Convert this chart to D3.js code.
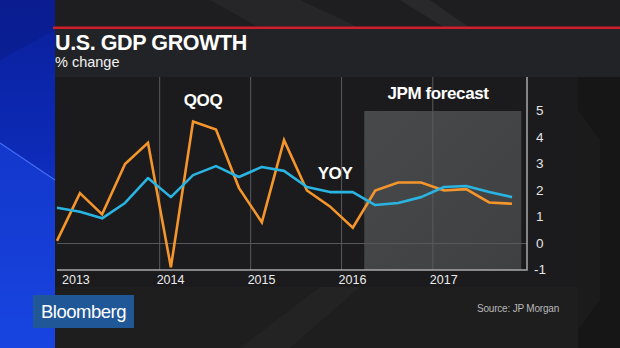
<!DOCTYPE html>
<html>
<head>
<meta charset="utf-8">
<script src="https://cdn.jsdelivr.net/npm/d3@7"></script>
<style>
  html, body { margin: 0; padding: 0; background: #1d1d1f; }
  svg { display: block; font-family: "Liberation Sans", Arial, sans-serif; }
</style>
</head>
<body>
<div id="chart"></div>
<script>
const width = 620;
const height = 348;

// quarterly GDP growth, Q4 2012 .. Q4 2017 (forecast from Q2 2016)
const quarters = ["2012Q4",
  "2013Q1", "2013Q2", "2013Q3", "2013Q4",
  "2014Q1", "2014Q2", "2014Q3", "2014Q4",
  "2015Q1", "2015Q2", "2015Q3", "2015Q4",
  "2016Q1", "2016Q2", "2016Q3", "2016Q4",
  "2017Q1", "2017Q2", "2017Q3", "2017Q4"];
const qoq = [0.1, 1.9, 1.1, 3.0, 3.8, -0.9, 4.6, 4.3, 2.1, 0.8, 3.9, 2.0, 1.4,
  0.6, 2.0, 2.3, 2.3, 2.0, 2.05, 1.55, 1.5];
const yoy = [1.35, 1.2, 0.95, 1.53, 2.47, 1.75, 2.58, 2.92, 2.51, 2.89, 2.74,
  2.13, 1.94, 1.94, 1.45, 1.53, 1.75, 2.13, 2.17, 1.94, 1.75];
const yearTicks = [2013, 2014, 2015, 2016, 2017];
const valueTicks = [-1, 0, 1, 2, 3, 4, 5];
const forecastPeriod = ["2016-04-01", "2017-12-22"];

// mid-point of each quarter
const parseQuarter = q => {
  const y = +q.slice(0, 4), n = +q.slice(5);
  return new Date(y, (n - 1) * 3 + 1, 15);
};
const dates = quarters.map(parseQuarter);

const svg = d3.select("#chart")
  .append("svg")
  .attr("width", width)
  .attr("height", height);

const defs = svg.append("defs");
const blueGrad = defs.append("linearGradient")
  .attr("id", "blueGrad").attr("x1", 0).attr("y1", 0).attr("x2", 0).attr("y2", 1);
blueGrad.append("stop").attr("offset", "0%").attr("stop-color", "#0a1f9a");
blueGrad.append("stop").attr("offset", "45%").attr("stop-color", "#0d2bb8");
blueGrad.append("stop").attr("offset", "100%").attr("stop-color", "#1747e6");

const shadeGrad = defs.append("linearGradient")
  .attr("id", "shadeGrad").attr("x1", 0).attr("y1", 0).attr("x2", 1).attr("y2", 1);
shadeGrad.append("stop").attr("offset", "0%").attr("stop-color", "#48494b");
shadeGrad.append("stop").attr("offset", "100%").attr("stop-color", "#3e4042");

// backdrop: studio panels
const bg = svg.append("g");
bg.append("rect").attr("width", width).attr("height", height).attr("fill", "#1c1c1e");
bg.append("rect").attr("width", width).attr("height", 28).attr("fill", "#1e1e20");
bg.append("path").attr("d", "M210,0 L300,0 L360,28 L260,28 Z").attr("fill", "#262628");
bg.append("path").attr("d", "M400,0 L430,0 L470,28 L445,28 Z").attr("fill", "#29292b");
bg.append("rect").attr("x", 55).attr("y", 29).attr("width", width - 55).attr("height", 48).attr("fill", "#222326");
bg.append("rect").attr("x", 578).attr("y", 77).attr("width", 42).attr("height", height - 77).attr("fill", "#161617");
bg.append("path").attr("d", "M578,110 L600,140 L600,300 L578,330 Z").attr("fill", "#1b1b1c");
bg.append("rect").attr("x", 55).attr("y", 287).attr("width", 523).attr("height", 61).attr("fill", "#1e1e1f");
bg.append("path").attr("d", "M240,348 L320,287 L360,287 L290,348 Z").attr("fill", "#232324");
bg.append("rect").attr("x", 55).attr("y", 77).attr("width", 523).attr("height", 210).attr("fill", "#1b1b1d");

// blue side strip
bg.append("rect").attr("width", 55).attr("height", height).attr("fill", "url(#blueGrad)");
bg.append("path").attr("d", "M0,143 L55,180 L55,348 L0,348 Z").attr("fill", "#1a44dc").attr("opacity", 0.55);
bg.append("path").attr("d", "M0,60 L55,30 L55,0 L0,0 Z").attr("fill", "#0a1a86").attr("opacity", 0.5);
bg.append("line").attr("x1", 0).attr("y1", 143).attr("x2", 55).attr("y2", 180)
  .attr("stroke", "#4f7cff").attr("stroke-width", 1.2).attr("opacity", 0.8);

bg.append("rect").attr("x", 53).attr("y", 26.5).attr("width", width - 53).attr("height", 2.5).attr("fill", "#cf1f2b");

// header
svg.append("text")
  .attr("x", 55).attr("y", 50)
  .attr("fill", "#ffffff")
  .attr("font-size", 21.5).attr("font-weight", "bold")
  .attr("letter-spacing", -0.4)
  .text("U.S. GDP GROWTH");
svg.append("text")
  .attr("x", 55).attr("y", 67)
  .attr("fill", "#f2f2f2")
  .attr("font-size", 14.5)
  .text("% change");

// scales
const x = d3.scaleTime()
  .domain([dates[0], new Date(2018, 0, 14)])
  .range([57, 527]);
const y = d3.scaleLinear()
  .domain([-1, 5])
  .range([270, 111]);
const plotTop = 77;
const x0 = x.range()[0];

// forecast shading
svg.append("rect")
  .attr("x", x(new Date(forecastPeriod[0])))
  .attr("y", y(5))
  .attr("width", x(new Date(forecastPeriod[1])) - x(new Date(forecastPeriod[0])))
  .attr("height", y(-1) - y(5))
  .attr("fill", "url(#shadeGrad)");

// grid (the first year sits too close to the left edge to get a line)
const yearDates = yearTicks.map(yr => new Date(yr, 0, 1));
svg.append("g")
  .selectAll("line")
  .data(yearDates.filter(d => x(d) > x0 + 20))
  .enter().append("line")
  .attr("x1", d => x(d)).attr("x2", d => x(d))
  .attr("y1", plotTop).attr("y2", y(-1))
  .attr("stroke", "#5a5a5c").attr("stroke-width", 1);
svg.append("line")
  .attr("x1", x0).attr("x2", x.range()[1])
  .attr("y1", y(0)).attr("y2", y(0))
  .attr("stroke", "#58585a").attr("stroke-width", 1);

// frame: bottom and right edges
svg.append("path")
  .attr("d", `M${x0},${y(-1)} H${x.range()[1]} V${plotTop}`)
  .attr("fill", "none")
  .attr("stroke", "#a9a9ab")
  .attr("stroke-width", 1.5);

// year labels, left-aligned to their gridline
svg.append("g")
  .selectAll("text")
  .data(yearDates)
  .enter().append("text")
  .attr("x", d => x(d) > x0 + 20 ? x(d) - 3 : x0 + 5)
  .attr("y", 284)
  .attr("fill", "#ececec")
  .attr("font-size", 12.5)
  .text(d => d.getFullYear());

// value labels on the right
svg.append("g")
  .selectAll("text")
  .data(valueTicks)
  .enter().append("text")
  .attr("x", d => d < 0 ? 534 : 536)
  .attr("y", d => y(d) + 4)
  .attr("fill", "#e4e4e4")
  .attr("font-size", 13.5)
  .text(d => d);

// series
const line = d3.line()
  .x((d, i) => x(dates[i]))
  .y(d => y(d));

svg.append("path")
  .datum(qoq)
  .attr("d", line)
  .attr("fill", "none")
  .attr("stroke", "#f4962b")
  .attr("stroke-width", 2.6)
  .attr("stroke-linejoin", "miter");

svg.append("path")
  .datum(yoy)
  .attr("d", line)
  .attr("fill", "none")
  .attr("stroke", "#2ab4e2")
  .attr("stroke-width", 2.6)
  .attr("stroke-linejoin", "round");

// series / period annotations
const notes = [
  { text: "QOQ", x: 203, y: 106 },
  { text: "YOY", x: 335, y: 179 },
  { text: "JPM forecast", x: 438, y: 99 }
];
svg.append("g")
  .selectAll("text")
  .data(notes)
  .enter().append("text")
  .attr("x", d => d.x).attr("y", d => d.y)
  .attr("text-anchor", "middle")
  .attr("fill", "#ffffff")
  .attr("font-size", 17).attr("font-weight", "bold")
  .attr("letter-spacing", -0.4)
  .text(d => d.text);

// footer
svg.append("rect")
  .attr("x", 33).attr("y", 295)
  .attr("width", 101).attr("height", 33)
  .attr("fill", "#1f5797");
svg.append("text")
  .attr("x", 41).attr("y", 318)
  .attr("fill", "#ffffff")
  .attr("font-size", 18.5)
  .attr("letter-spacing", -0.5)
  .text("Bloomberg");
svg.append("text")
  .attr("x", 477).attr("y", 312)
  .attr("fill", "#b8b8b8")
  .attr("font-size", 10)
  .attr("letter-spacing", -0.2)
  .text("Source: JP Morgan");
</script>
</body>
</html>
